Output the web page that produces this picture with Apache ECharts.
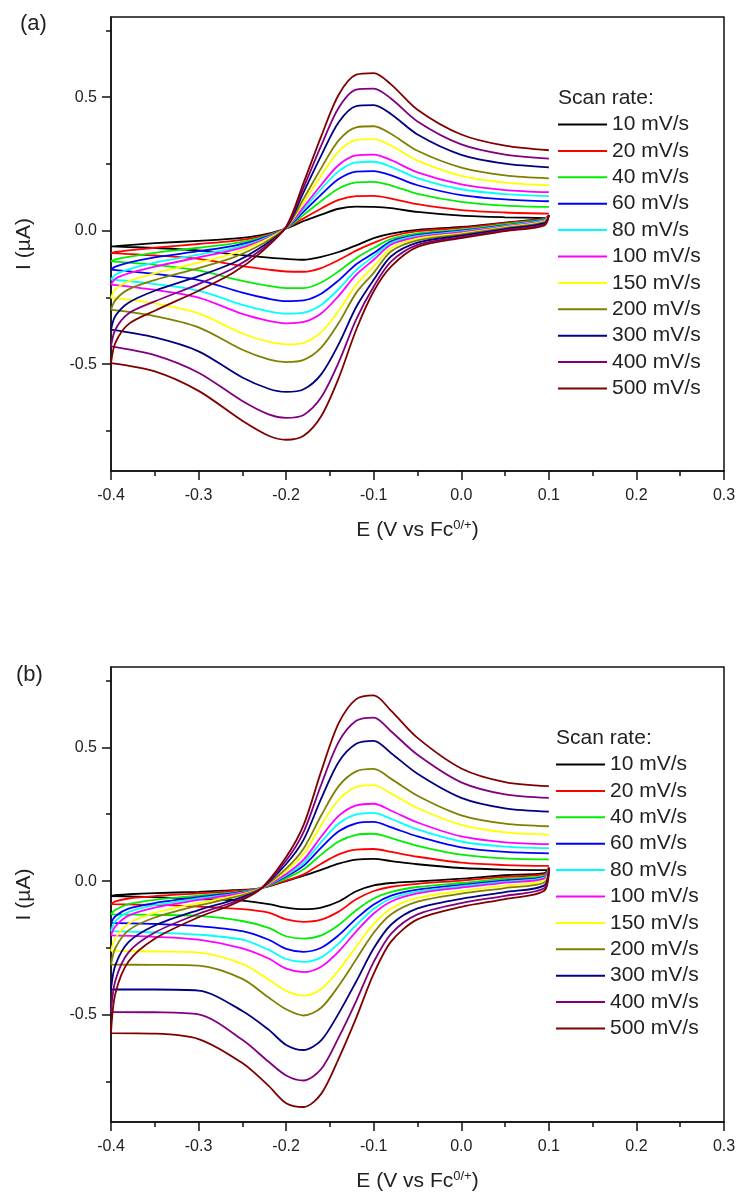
<!DOCTYPE html>
<html>
<head>
<meta charset="utf-8">
<script src="https://cdn.jsdelivr.net/npm/echarts@6/dist/echarts.min.js"></script>
<style>html,body{margin:0;padding:0;background:#fff}#c{width:739px;height:1194px}</style>
</head>
<body>
<div id="c"></div>
<script>
// ---- data ----
const RATES = ['10 mV/s','20 mV/s','40 mV/s','60 mV/s','80 mV/s','100 mV/s','150 mV/s','200 mV/s','300 mV/s','400 mV/s','500 mV/s'];
const X_TICKS = [-0.4,-0.3,-0.2,-0.1,0.0,0.1,0.2,0.3];
const Y_TICKS = [-0.5,0.0,0.5];
const Y_MINOR = [-0.75,-0.25,0.25,0.75];
// potentials of forward sweep (V) and reverse sweep (V)
const E_FWD = [-0.4,-0.395,-0.38,-0.35,-0.3,-0.26,-0.23,-0.2,-0.18,-0.16,-0.14,-0.12,-0.1,-0.08,-0.05,0,0.05,0.1];
const E_REV = [0.1,0.095,0.05,0,-0.05,-0.08,-0.1,-0.12,-0.14,-0.16,-0.18,-0.2,-0.22,-0.25,-0.3,-0.35,-0.4];

// panel (a) forward currents (uA)
const A_F_10  = [-0.059,-0.058,-0.054,-0.047,-0.038,-0.030,-0.018,0.008,0.036,0.060,0.082,0.090,0.089,0.084,0.070,0.056,0.050,0.047];
const A_F_20  = [-0.084,-0.080,-0.074,-0.064,-0.050,-0.038,-0.022,0.009,0.046,0.083,0.115,0.129,0.130,0.120,0.099,0.077,0.068,0.064];
const A_F_40  = [-0.115,-0.108,-0.098,-0.083,-0.064,-0.048,-0.027,0.009,0.059,0.111,0.158,0.181,0.183,0.169,0.138,0.108,0.094,0.089];
const A_F_60  = [-0.146,-0.135,-0.120,-0.100,-0.077,-0.057,-0.032,0.010,0.071,0.135,0.193,0.221,0.223,0.207,0.170,0.133,0.117,0.110];
const A_F_80  = [-0.183,-0.165,-0.145,-0.120,-0.090,-0.065,-0.036,0.010,0.081,0.156,0.223,0.256,0.258,0.239,0.197,0.155,0.137,0.129];
const A_F_100 = [-0.202,-0.180,-0.160,-0.135,-0.100,-0.072,-0.040,0.010,0.089,0.171,0.246,0.282,0.285,0.264,0.218,0.173,0.152,0.144];
const A_F_150 = [-0.252,-0.220,-0.190,-0.160,-0.120,-0.085,-0.045,0.011,0.106,0.206,0.297,0.340,0.343,0.318,0.262,0.205,0.180,0.170];
const A_F_200 = [-0.296,-0.260,-0.220,-0.185,-0.140,-0.100,-0.055,0.011,0.120,0.234,0.338,0.387,0.391,0.362,0.299,0.236,0.207,0.196];
const A_F_300 = [-0.371,-0.320,-0.270,-0.225,-0.170,-0.120,-0.065,0.012,0.144,0.281,0.406,0.466,0.470,0.436,0.360,0.284,0.251,0.237];
const A_F_400 = [-0.433,-0.370,-0.310,-0.265,-0.200,-0.140,-0.075,0.013,0.162,0.318,0.460,0.528,0.532,0.494,0.409,0.323,0.285,0.270];
const A_F_500 = [-0.496,-0.420,-0.350,-0.300,-0.225,-0.157,-0.085,0.015,0.180,0.353,0.509,0.584,0.590,0.547,0.453,0.360,0.318,0.301];
// panel (a) reverse currents (uA)
const A_R_10  = [0.050,0.045,0.030,0.014,0.003,-0.011,-0.028,-0.055,-0.080,-0.098,-0.109,-0.106,-0.101,-0.092,-0.074,-0.065,-0.059];
const A_R_20  = [0.058,0.045,0.028,0.010,-0.002,-0.021,-0.046,-0.075,-0.110,-0.140,-0.154,-0.153,-0.146,-0.133,-0.106,-0.093,-0.084];
const A_R_40  = [0.058,0.043,0.024,0.004,-0.010,-0.031,-0.065,-0.103,-0.152,-0.194,-0.215,-0.215,-0.207,-0.188,-0.149,-0.128,-0.115];
const A_R_60  = [0.058,0.041,0.020,0.000,-0.016,-0.040,-0.084,-0.126,-0.186,-0.236,-0.261,-0.264,-0.255,-0.232,-0.185,-0.162,-0.146];
const A_R_80  = [0.058,0.039,0.018,-0.003,-0.020,-0.046,-0.096,-0.148,-0.219,-0.278,-0.307,-0.311,-0.302,-0.278,-0.225,-0.200,-0.183];
const A_R_100 = [0.058,0.037,0.016,-0.006,-0.024,-0.052,-0.109,-0.165,-0.244,-0.310,-0.342,-0.347,-0.338,-0.312,-0.251,-0.222,-0.202];
const A_R_150 = [0.058,0.035,0.013,-0.010,-0.030,-0.065,-0.134,-0.202,-0.300,-0.380,-0.420,-0.426,-0.416,-0.385,-0.310,-0.272,-0.252];
const A_R_200 = [0.058,0.032,0.010,-0.014,-0.036,-0.077,-0.158,-0.233,-0.346,-0.438,-0.484,-0.492,-0.482,-0.446,-0.362,-0.320,-0.296];
const A_R_300 = [0.058,0.028,0.006,-0.019,-0.045,-0.096,-0.184,-0.286,-0.425,-0.538,-0.594,-0.604,-0.592,-0.550,-0.452,-0.400,-0.371];
const A_R_400 = [0.058,0.024,0.002,-0.024,-0.053,-0.115,-0.209,-0.332,-0.493,-0.624,-0.690,-0.701,-0.688,-0.638,-0.532,-0.466,-0.433];
const A_R_500 = [0.058,0.020,-0.002,-0.028,-0.061,-0.134,-0.227,-0.371,-0.552,-0.695,-0.768,-0.783,-0.768,-0.712,-0.600,-0.527,-0.496];

// panel (b) forward currents (uA)
const B_F_10  = [-0.056,-0.052,-0.049,-0.045,-0.040,-0.034,-0.027,0.000,0.020,0.042,0.065,0.080,0.083,0.075,0.063,0.049,0.043,0.041];
const B_F_20  = [-0.086,-0.076,-0.065,-0.056,-0.046,-0.037,-0.027,0.002,0.025,0.065,0.100,0.118,0.120,0.109,0.091,0.069,0.060,0.057];
const B_F_40  = [-0.124,-0.107,-0.086,-0.070,-0.054,-0.042,-0.028,0.010,0.044,0.099,0.148,0.173,0.177,0.161,0.132,0.099,0.085,0.081];
const B_F_60  = [-0.156,-0.131,-0.103,-0.082,-0.060,-0.045,-0.028,0.017,0.058,0.125,0.186,0.216,0.221,0.201,0.167,0.126,0.109,0.104];
const B_F_80  = [-0.187,-0.150,-0.116,-0.090,-0.065,-0.048,-0.028,0.022,0.069,0.146,0.215,0.249,0.255,0.232,0.193,0.148,0.129,0.123];
const B_F_100 = [-0.203,-0.169,-0.129,-0.099,-0.070,-0.050,-0.029,0.027,0.080,0.166,0.244,0.283,0.289,0.263,0.219,0.167,0.145,0.138];
const B_F_150 = [-0.261,-0.213,-0.159,-0.119,-0.082,-0.056,-0.029,0.038,0.102,0.209,0.304,0.352,0.359,0.327,0.273,0.210,0.182,0.174];
const B_F_200 = [-0.312,-0.250,-0.184,-0.136,-0.091,-0.061,-0.030,0.047,0.122,0.245,0.355,0.410,0.419,0.382,0.319,0.246,0.215,0.205];
const B_F_300 = [-0.405,-0.314,-0.228,-0.166,-0.108,-0.070,-0.031,0.064,0.155,0.308,0.445,0.513,0.524,0.478,0.401,0.311,0.272,0.260];
const B_F_400 = [-0.489,-0.371,-0.266,-0.192,-0.122,-0.078,-0.031,0.077,0.184,0.360,0.520,0.599,0.611,0.559,0.472,0.369,0.324,0.311];
const B_F_500 = [-0.568,-0.420,-0.300,-0.215,-0.135,-0.085,-0.032,0.090,0.210,0.410,0.590,0.680,0.694,0.636,0.535,0.421,0.370,0.355];
// panel (b) reverse currents (uA)
const B_R_10  = [0.050,0.030,0.022,0.009,-0.001,-0.007,-0.016,-0.038,-0.076,-0.099,-0.105,-0.099,-0.086,-0.073,-0.067,-0.060,-0.056];
const B_R_20  = [0.050,0.026,0.016,0.002,-0.010,-0.021,-0.037,-0.068,-0.114,-0.144,-0.152,-0.143,-0.118,-0.105,-0.095,-0.089,-0.086];
const B_R_40  = [0.050,0.020,0.009,-0.007,-0.022,-0.040,-0.065,-0.109,-0.164,-0.203,-0.215,-0.206,-0.175,-0.149,-0.130,-0.126,-0.124];
const B_R_60  = [0.050,0.016,0.003,-0.014,-0.032,-0.054,-0.087,-0.140,-0.202,-0.249,-0.264,-0.253,-0.219,-0.187,-0.168,-0.160,-0.156];
const B_R_80  = [0.050,0.013,-0.002,-0.019,-0.039,-0.065,-0.104,-0.164,-0.233,-0.285,-0.302,-0.291,-0.257,-0.219,-0.200,-0.192,-0.187];
const B_R_100 = [0.050,0.009,-0.006,-0.024,-0.046,-0.076,-0.121,-0.188,-0.263,-0.320,-0.340,-0.327,-0.289,-0.251,-0.219,-0.208,-0.203];
const B_R_150 = [0.050,0.002,-0.017,-0.037,-0.063,-0.102,-0.160,-0.245,-0.333,-0.403,-0.428,-0.410,-0.368,-0.309,-0.267,-0.263,-0.261];
const B_R_200 = [0.050,-0.005,-0.026,-0.047,-0.077,-0.124,-0.193,-0.292,-0.391,-0.473,-0.502,-0.479,-0.435,-0.365,-0.316,-0.313,-0.312];
const B_R_300 = [0.050,-0.016,-0.041,-0.066,-0.102,-0.162,-0.251,-0.375,-0.494,-0.595,-0.631,-0.612,-0.555,-0.485,-0.409,-0.405,-0.405];
const B_R_400 = [0.050,-0.026,-0.055,-0.082,-0.124,-0.196,-0.302,-0.448,-0.584,-0.702,-0.745,-0.726,-0.675,-0.593,-0.498,-0.490,-0.489];
const B_R_500 = [0.050,-0.035,-0.067,-0.096,-0.143,-0.225,-0.346,-0.511,-0.663,-0.795,-0.844,-0.830,-0.765,-0.680,-0.590,-0.570,-0.568];

const A_FWD = [A_F_10,A_F_20,A_F_40,A_F_60,A_F_80,A_F_100,A_F_150,A_F_200,A_F_300,A_F_400,A_F_500];
const A_REV = [A_R_10,A_R_20,A_R_40,A_R_60,A_R_80,A_R_100,A_R_150,A_R_200,A_R_300,A_R_400,A_R_500];
const B_FWD = [B_F_10,B_F_20,B_F_40,B_F_60,B_F_80,B_F_100,B_F_150,B_F_200,B_F_300,B_F_400,B_F_500];
const B_REV = [B_R_10,B_R_20,B_R_40,B_R_60,B_R_80,B_R_100,B_R_150,B_R_200,B_R_300,B_R_400,B_R_500];

// ---- styles ----
const COLORS = ['#000000','#ff0000','#00ee00','#0000ff','#00ffff','#ff00ff','#ffff00','#808000','#000080','#800080','#800000'];
const FONT = "'Liberation Sans', Arial, sans-serif";
const TXT = '#222';

function fmt(v){ return Math.abs(v) < 1e-9 ? '0.0' : v.toFixed(1); }

function makeSeries(fwd, rev, idx){
  return fwd.map((f, k) => {
    const data = E_FWD.map((x, i) => [x, f[i]])
      .concat([[E_FWD[E_FWD.length-1], '-']])
      .concat(E_REV.map((x, i) => [x, rev[k][i]]));
    return {
      type: 'line', name: RATES[k], xAxisIndex: idx, yAxisIndex: idx*2,
      data, showSymbol: false, symbol: 'none', smooth: 0.3, connectNulls: false,
      lineStyle: { color: COLORS[k], width: 1.8 }, itemStyle: { color: COLORS[k] },
      emphasis: { disabled: true }, animation: false
    };
  });
}

const gridTop = [17, 667];
const gridH = [454, 455];

const xAxes = [0,1].map(i => ({
  type: 'value', gridIndex: i, min: -0.4, max: 0.3, interval: 0.1,
  axisLine: { show: true, onZero: false, lineStyle: { color: '#111', width: 1.5 } },
  axisTick: { show: true, inside: false, length: 9, lineStyle: { color: '#111', width: 1.5 } },
  minorTick: { show: true, splitNumber: 2, length: 5, lineStyle: { color: '#111', width: 1.5 } },
  splitLine: { show: false },
  axisLabel: { formatter: fmt, fontSize: 16, color: TXT, fontFamily: FONT, margin: 17 },
  name: '{n|E (V vs Fc}{s|0/+}{n|)}', nameLocation: 'middle', nameGap: 48,
  nameTextStyle: { rich: {
    n: { fontSize: 21, color: TXT, fontFamily: FONT },
    s: { fontSize: 13, color: TXT, fontFamily: FONT, verticalAlign: 'top', padding: [0,0,10,0] }
  } }
}));

const yAxes = [];
[0,1].forEach(i => {
  yAxes.push({
    type: 'value', gridIndex: i, min: -0.9, max: 0.8, position: 'left',
    axisLine: { show: true, onZero: false, lineStyle: { color: '#111', width: 1.5 } },
    axisTick: { show: true, length: 9, customValues: Y_TICKS, lineStyle: { color: '#111', width: 1.5 } },
    splitLine: { show: false },
    axisLabel: { customValues: Y_TICKS, formatter: fmt, fontSize: 16, color: TXT, fontFamily: FONT, margin: 14 },
    name: 'I (\u00b5A)', nameLocation: 'middle', nameGap: 76,
    nameTextStyle: { fontSize: 21, color: TXT, fontFamily: FONT }
  });
  yAxes.push({
    type: 'value', gridIndex: i, min: -0.9, max: 0.8, position: 'left', offset: 0,
    axisLine: { show: false, onZero: false },
    axisTick: { show: true, length: 5, customValues: Y_MINOR, lineStyle: { color: '#111', width: 1.5 } },
    splitLine: { show: false },
    axisLabel: { show: false }
  });
});

const legends = [0,1].map(i => ({
  data: RATES, orient: 'vertical', left: i === 0 ? 558 : 556, top: i === 0 ? 114 : 754,
  padding: 0, icon: 'rect',
  itemWidth: 49, itemHeight: 2, itemGap: 5.4, selectedMode: false,
  textStyle: { fontSize: 21, lineHeight: 21, color: TXT, fontFamily: FONT }
}));

const chart = echarts.init(document.getElementById('c'), null, { renderer: 'canvas' });
chart.setOption({
  animation: false,
  backgroundColor: '#fff',
  grid: [0,1].map(i => ({ left: 111, top: gridTop[i], width: 613, height: gridH[i], show: true,
    borderColor: '#111', borderWidth: 1.5, backgroundColor: 'transparent', containLabel: false })),
  xAxis: xAxes,
  yAxis: yAxes,
  legend: legends,
  series: makeSeries(A_FWD, A_REV, 0).concat(makeSeries(B_FWD, B_REV, 1)),
  graphic: [
    { type: 'text', left: 20, top: 13, style: { text: '(a)', fontSize: 22, fill: TXT, fontFamily: FONT } },
    { type: 'text', left: 16, top: 664, style: { text: '(b)', fontSize: 22, fill: TXT, fontFamily: FONT } },
    { type: 'text', left: 558, top: 88, style: { text: 'Scan rate:', fontSize: 21, fill: TXT, fontFamily: FONT } },
    { type: 'text', left: 556, top: 728, style: { text: 'Scan rate:', fontSize: 21, fill: TXT, fontFamily: FONT } }
  ]
});
</script>
</body>
</html>
